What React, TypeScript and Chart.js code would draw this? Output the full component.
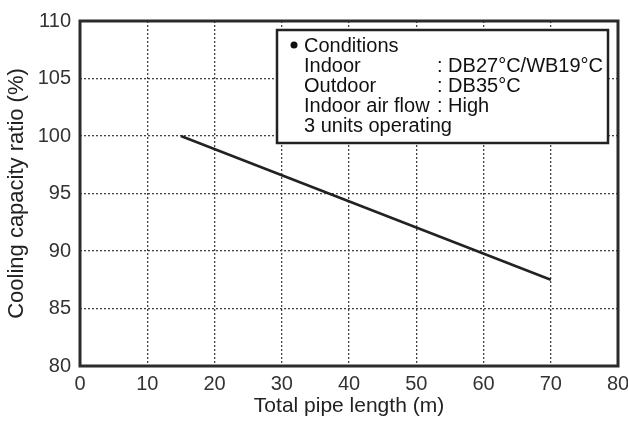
import React, { useEffect, useRef } from "react";
import { Chart, registerables } from "chart.js";

Chart.register(...registerables);

const pipeLength = [15, 70];
const capacityRatio = [100, 87.5];
const xTicks = [0, 10, 20, 30, 40, 50, 60, 70, 80];
const yTicks = [80, 85, 90, 95, 100, 105, 110];
const conditionLabels = ["Indoor", "Outdoor", "Indoor air flow"];
const conditionValues = [": DB27°C/WB19°C", ": DB35°C", ": High"];
const conditionsTitle = "Conditions";
const conditionsFooter = "3 units operating";

const FONT = "'Liberation Sans', Arial, Helvetica, sans-serif";

const framePlugin = {
  id: "frame",
  afterDatasetsDraw(chart: any) {
    const { ctx, chartArea } = chart;
    const { left, right, top, bottom } = chartArea;
    ctx.save();
    ctx.strokeStyle = "#2b2b2b";
    ctx.lineWidth = 3;
    ctx.strokeRect(left, top, right - left, bottom - top);

    // conditions box
    const bx = right - 341;
    const by = top + 9;
    const bw = 331;
    const bh = 113;
    ctx.fillStyle = "#ffffff";
    ctx.fillRect(bx, by, bw, bh);
    ctx.strokeStyle = "#222";
    ctx.lineWidth = 2.5;
    ctx.strokeRect(bx, by, bw, bh);

    ctx.fillStyle = "#111";
    ctx.font = `20px ${FONT}`;
    ctx.textBaseline = "alphabetic";
    ctx.textAlign = "left";
    const tx = bx + 27;
    const colonX = bx + 160;
    let y = by + 22;
    ctx.beginPath();
    ctx.arc(bx + 17, y - 7, 3.5, 0, Math.PI * 2);
    ctx.fill();
    ctx.fillText(conditionsTitle, tx, y);
    for (let i = 0; i < conditionLabels.length; i++) {
      y += 20;
      ctx.fillText(conditionLabels[i], tx, y);
      const lw = ctx.measureText(conditionLabels[i] + " ").width;
      ctx.fillText(conditionValues[i], Math.max(colonX, tx + lw), y);
    }
    y += 20;
    ctx.fillText(conditionsFooter, tx, y);
    ctx.restore();
  },
};

export default function App() {
  const ref = useRef<HTMLCanvasElement | null>(null);
  useEffect(() => {
    if (!ref.current) return;
    const chart = new Chart(ref.current, {
      type: "line",
      data: {
        datasets: [
          {
            data: pipeLength.map((x, i) => ({ x, y: capacityRatio[i] })),
            borderColor: "#222",
            borderWidth: 2.5,
            pointRadius: 0,
            fill: false,
            tension: 0,
          },
        ],
      },
      options: {
        animation: false,
        responsive: false,
        maintainAspectRatio: false,
        layout: { padding: { top: 17, right: 0, left: 0, bottom: 0 } },
        plugins: { legend: { display: false }, tooltip: { enabled: false } },
        scales: {
          x: {
            type: "linear",
            min: 0,
            max: 80,
            afterBuildTicks: (s: any) => {
              s.ticks = xTicks.map((v) => ({ value: v }));
            },
            afterFit: (s: any) => {
              s.height = 66;
              s.paddingRight = 10;
              s.paddingLeft = 0;
            },
            grid: { color: "#444", lineWidth: 1.3, drawTicks: false },
            border: { display: false, dash: [2, 2] },
            ticks: {
              padding: 6,
              color: "#333",
              font: { family: FONT, size: 20 },
              maxRotation: 0,
            },
            title: {
              display: true,
              text: "Total pipe length (m)",
              color: "#222",
              font: { family: FONT, size: 21 },
              padding: { top: 0, bottom: 13 },
            },
          },
          y: {
            type: "linear",
            min: 80,
            max: 110,
            afterBuildTicks: (s: any) => {
              s.ticks = yTicks.map((v) => ({ value: v }));
            },
            afterFit: (s: any) => {
              s.width = 80;
            },
            grid: { color: "#444", lineWidth: 1.3, drawTicks: false },
            border: { display: false, dash: [2, 2] },
            ticks: {
              padding: 9,
              color: "#333",
              font: { family: FONT, size: 20 },
            },
            title: {
              display: true,
              text: "Cooling capacity ratio (%)",
              color: "#222",
              font: { family: FONT, size: 22 },
              padding: { top: 4, bottom: 0 },
            },
          },
        },
      },
      plugins: [framePlugin],
    });
    return () => chart.destroy();
  }, []);
  return (
    <div style={{ position: "absolute", left: 0, top: 0, width: 628, height: 432, background: "#fff" }}>
      <canvas ref={ref} width={628} height={432} style={{ width: 628, height: 432 }} />
    </div>
  );
}
